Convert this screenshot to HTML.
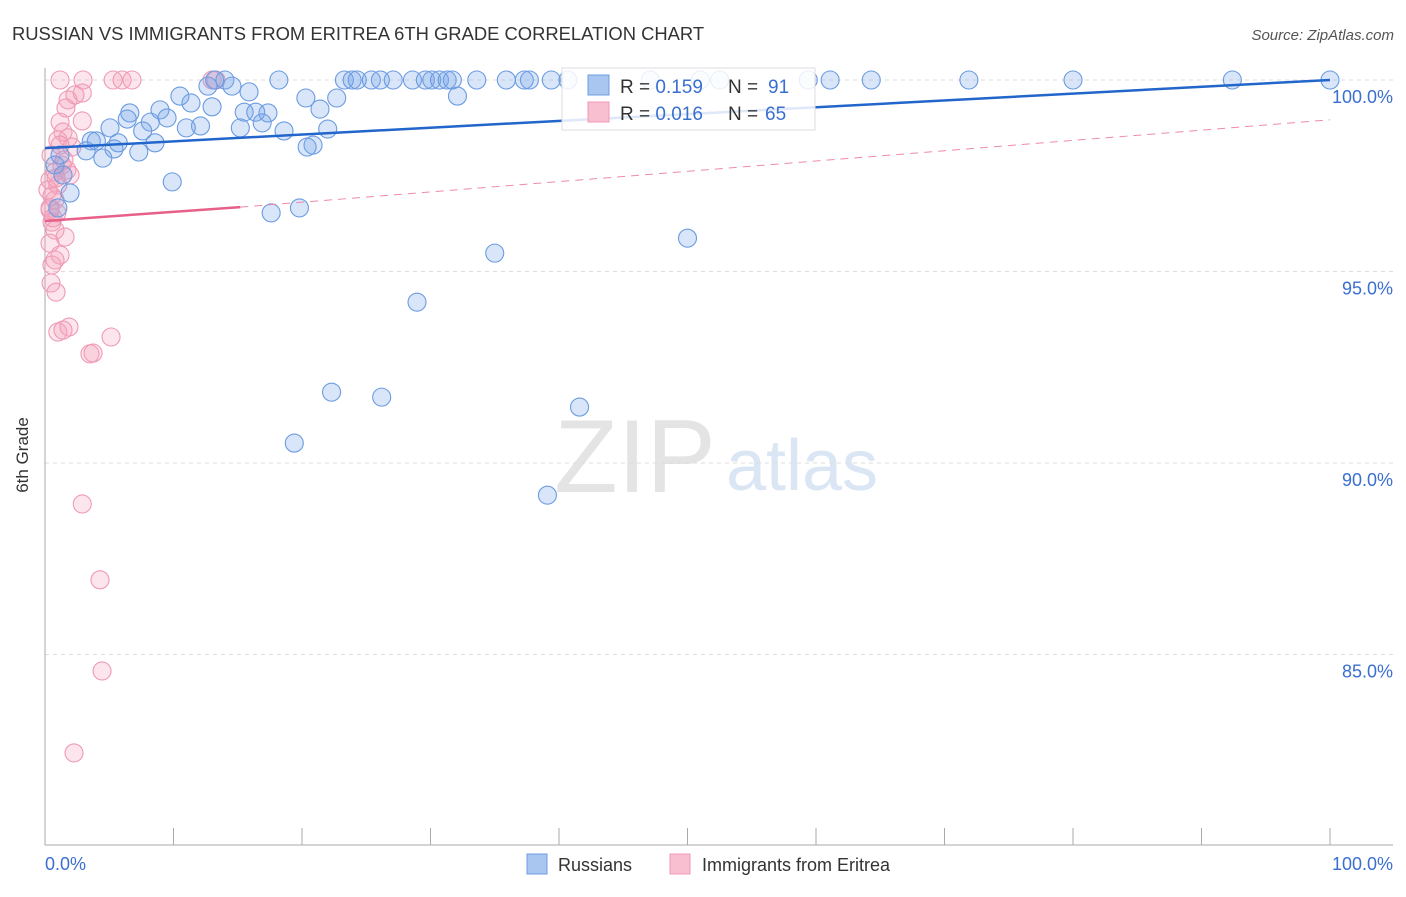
<!DOCTYPE html>
<html><head><meta charset="utf-8"><style>
body{margin:0;background:#fff;font-family:"Liberation Sans",sans-serif;}
svg text{font-family:"Liberation Sans",sans-serif;}
</style></head><body>
<svg width="1406" height="892" viewBox="0 0 1406 892">
<text x="12" y="40" font-size="18.4" fill="#333">RUSSIAN VS IMMIGRANTS FROM ERITREA 6TH GRADE CORRELATION CHART</text>
<text x="1394" y="40" font-size="15" fill="#555" font-style="italic" text-anchor="end">Source: ZipAtlas.com</text>
<g>
<text x="635" y="492" font-size="104" fill="#e4e4e4" font-family="Liberation Serif,serif" text-anchor="middle">ZIP</text>
<text x="802" y="490" font-size="72" fill="#dbe6f5" text-anchor="middle">atlas</text>
</g>
<g id="grid"></g>
<g id="axes"></g>
<g id="pts"></g>
<g id="trends"></g>
<text x="28" y="455" font-size="17" fill="#333" transform="rotate(-90 28 455)" text-anchor="middle">6th Grade</text>
<text x="45" y="870" font-size="18" fill="#3a6fd0">0.0%</text>
<text x="1393" y="870" font-size="18" fill="#3a6fd0" text-anchor="end">100.0%</text>
<g>
<rect x="562" y="68" width="253" height="62" fill="rgba(255,255,255,0.85)" stroke="#ddd"/>
<rect x="588" y="75" width="21" height="20" fill="#a9c6f0" stroke="#6d9de0"/>
<rect x="588" y="102" width="21" height="20" fill="#f8bfd0" stroke="#ee9ab5"/>
<text x="620" y="93" font-size="19" fill="#333">R = <tspan fill="#3a6fd0">0.159</tspan><tspan x="728">N = </tspan><tspan x="768" fill="#3a6fd0">91</tspan></text>
<text x="620" y="120" font-size="19" fill="#333">R = <tspan fill="#3a6fd0">0.016</tspan><tspan x="728">N = </tspan><tspan x="765" fill="#3a6fd0">65</tspan></text>
</g>
<g>
<rect x="527" y="854" width="20" height="20" fill="#a9c6f0" stroke="#6d9de0"/>
<text x="558" y="871" font-size="18" fill="#333">Russians</text>
<rect x="670" y="854" width="20" height="20" fill="#f8bfd0" stroke="#ee9ab5"/>
<text x="702" y="871" font-size="18" fill="#333">Immigrants from Eritrea</text>
</g>
</svg>
<script>
const yTicks=[100,95,90,85];
const yTickLabels=["100.0%","95.0%","90.0%","85.0%"];
const xTicks=[0,10,20,30,40,50,60,70,80,90,100];
const russX=[13.2,14.0,18.2,23.3,23.9,24.3,25.4,26.1,27.1,28.6,29.6,30.1,30.7,31.3,31.7,33.6,35.9,37.3,37.7,39.4,40.7,47.1,51.0,52.5,59.4,61.1,64.3,71.9,80.0,92.4,100,
14.55,12.68,15.88,10.5,20.3,22.7,32.1,11.36,13.0,8.95,6.6,21.4,15.5,17.35,16.4,9.5,6.4,8.2,12.1,11.0,5.06,7.6,15.2,16.9,18.6,22.0,3.6,4.0,5.7,8.56,20.86,20.4,5.37,4.5,3.2,7.3,1.17,0.78,1.4,1.95,1.0,9.9,17.6,19.8,35.0,50.0,28.95,22.3,26.2,41.6,19.4,39.1];
const russY=[100,100,100,100,100,100,100,100,100,100,100,100,100,100,100,100,100,100,100,100,100,100,100,100,100,100,100,100,100,100,100,
99.84,99.84,99.69,99.58,99.53,99.53,99.58,99.40,99.30,99.22,99.14,99.24,99.16,99.14,99.16,99.01,98.98,98.90,98.80,98.75,98.75,98.67,98.75,98.88,98.67,98.72,98.41,98.41,98.36,98.36,98.30,98.25,98.20,97.96,98.15,98.12,98.04,97.78,97.52,97.05,96.66,97.34,96.53,96.66,95.48,95.87,94.20,91.85,91.72,91.46,90.52,89.16];
const eriX=[1.17,2.96,5.3,6.0,6.77,13.0,13.3,1.8,2.9,2.33,1.63,1.17,2.9,1.4,1.0,1.8,2.1,1.17,0.47,1.32,1.71,0.78,1.95,0.39,1.0,0.54,0.78,0.39,0.93,0.54,0.78,1.56,0.39,1.17,0.78,0.54,0.47,0.86,1.0,1.87,1.4,3.5,3.74,5.14,2.9,4.28,4.44,2.26,0.39,0.62,0.23,0.86,1.48];
const eriY=[100,100,100,100,100,100,100,99.48,99.66,99.61,99.27,98.9,98.93,98.64,98.43,98.49,98.25,98.3,98.04,97.78,97.65,97.6,97.52,97.39,97.26,96.97,96.87,96.66,96.53,96.29,96.08,95.9,95.74,95.43,95.3,95.17,94.7,94.46,93.42,93.55,93.47,92.85,92.87,93.29,88.93,86.95,84.57,82.43,96.61,96.4,97.13,97.44,97.91];
const russTrendX=[0,100];
const russTrendY=[98.22,100];
const eriSolidX=[0,15.2];
const eriSolidY=[96.32,96.68];
const eriDashX=[15.2,100];
const eriDashY=[96.68,98.96];
const X0=45,X1=1330,Y100=80,PXPCT=38.3;
function sx(v){return X0+(X1-X0)*v/100;}
function sy(v){return Y100+(100-v)*PXPCT;}
const NS="http://www.w3.org/2000/svg";
function mk(t,a,p){const e=document.createElementNS(NS,t);for(const k in a)e.setAttribute(k,a[k]);p.appendChild(e);return e;}
const grid=document.getElementById('grid'),axes=document.getElementById('axes'),pts=document.getElementById('pts'),tr=document.getElementById('trends');
yTicks.forEach((v,i)=>{
 const l=mk('line',{x1:X0,x2:1393,y1:sy(v),y2:sy(v),stroke:'#ddd','stroke-dasharray':'4,4'},grid);
 
 
 const t=mk('text',{x:1393,y:sy(v)+23,'font-size':18,fill:'#3a6fd0','text-anchor':'end'},axes);
 t.textContent=yTickLabels[i];
 
 
});
mk('line',{x1:X0,x2:X0,y1:68,y2:845,stroke:'#aaa'},axes);
mk('line',{x1:X0,x2:1393,y1:845,y2:845,stroke:'#aaa'},axes);
xTicks.forEach(v=>{
 const l=mk('line',{x1:sx(v),x2:sx(v),y1:828,y2:845,stroke:'#aaa'},axes);
 
 
});
eriX.forEach((v,i)=>{
 const c=mk('circle',{cx:sx(v),cy:sy(eriY[i]),r:9,fill:'rgba(246,160,188,0.28)',stroke:'#ef9ab6','stroke-width':1.1},pts);
 
 
});
russX.forEach((v,i)=>{
 const c=mk('circle',{cx:sx(v),cy:sy(russY[i]),r:9,fill:'rgba(120,165,235,0.28)',stroke:'#6b9be0','stroke-width':1.1},pts);
 
 
});
let l=mk('line',{x1:sx(russTrendX[0]),y1:sy(russTrendY[0]),x2:sx(russTrendX[1]),y2:sy(russTrendY[1]),stroke:'#2266cc','stroke-width':2.5},tr);


l=mk('line',{x1:sx(eriSolidX[0]),y1:sy(eriSolidY[0]),x2:sx(eriSolidX[1]),y2:sy(eriSolidY[1]),stroke:'#e8608a','stroke-width':2.5},tr);


l=mk('line',{x1:sx(eriDashX[0]),y1:sy(eriDashY[0]),x2:sx(eriDashX[1]),y2:sy(eriDashY[1]),stroke:'#ee8aa8','stroke-width':1,'stroke-dasharray':'8,6'},tr);


</script>
</body></html>
